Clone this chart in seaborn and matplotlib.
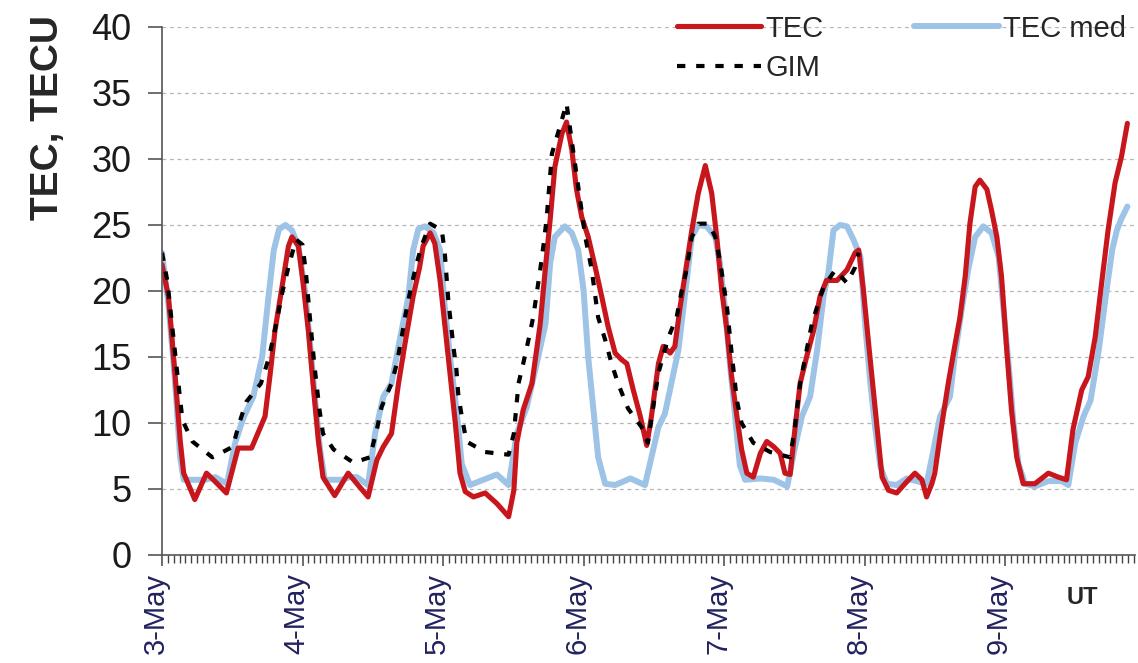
import matplotlib
matplotlib.use("Agg")
import matplotlib.pyplot as plt
import matplotlib.transforms as mtransforms
import seaborn as sns

tec_hours = [0, 1.1, 2.2, 3.1, 3.7, 5.6, 7.6, 9.0, 11.0, 13.0, 15.3, 17.6, 18.5, 19.3, 20.5,
             21.6, 22.2, 23.3, 24.1, 25.0, 25.8, 26.7, 27.5, 29.5, 31.8, 33.3, 35.2, 36.7,
             37.8, 39.2, 40.4, 41.5, 42.9, 44.0, 44.6, 45.8, 46.6, 47.5, 48.3, 49.2, 50.1,
             50.9, 51.8, 53.2, 55.2, 57.2, 59.2, 60.1, 60.6, 61.7, 63.2, 64.6, 65.5, 66.3,
             67.1, 68.3, 69.1, 70.0, 70.8, 71.7, 72.8, 74.0, 75.1, 76.2, 77.4, 78.5, 79.4,
             80.5, 81.7, 82.8, 83.6, 84.8, 85.6, 86.8, 87.6, 88.5, 89.3, 90.5, 91.6, 92.8,
             93.9, 94.8, 95.6, 96.5, 97.3, 98.2, 99.0, 99.9, 101.0, 102.2, 103.3, 104.5,
             105.6, 106.4, 107.3, 108.1, 109.0, 110.1, 111.3, 112.4, 113.5, 115.3, 117.0,
             118.4, 119.0, 119.8, 120.7, 121.5, 122.4, 123.0, 124.1, 125.5, 126.9, 128.6,
             129.8, 130.6, 131.5, 132.0, 133.0, 134.3, 135.4, 136.3, 137.2, 138.0, 138.9,
             139.7, 140.9, 141.7, 142.6, 143.4, 144.3, 145.1, 146.0, 147.1, 149.1, 151.4,
             153.1, 154.5, 155.6, 157.1, 158.2, 159.4, 160.5, 161.6, 162.8, 163.9, 164.9]
tec_vals = [22.0, 19.6, 13.8, 8.7, 6.2, 4.2, 6.2, 5.6, 4.7, 8.1, 8.1, 10.5, 13.8, 17.0, 20.3,
            23.4, 24.1, 23.4, 20.6, 17.0, 13.0, 8.7, 5.9, 4.5, 6.2, 5.4, 4.4, 7.2,
            8.2, 9.2, 13.0, 16.0, 19.6, 21.8, 23.4, 24.4, 23.6, 20.8, 17.5, 13.8, 10.0,
            6.2, 4.8, 4.4, 4.7, 3.9, 2.9, 4.9, 8.5, 11.0, 13.0, 17.5, 21.8, 25.4,
            29.4, 31.9, 32.8, 30.7, 27.7, 25.6, 24.1, 21.8, 19.6, 17.3, 15.3, 14.8, 14.5,
            12.5, 10.5, 8.3, 10.5, 14.5, 15.8, 15.3, 15.8, 18.8, 21.1, 24.6, 27.4, 29.5,
            27.4, 23.9, 20.1, 17.0, 13.5, 10.5, 8.0, 6.2, 5.9, 7.7, 8.6, 8.2,
            7.7, 6.2, 6.1, 9.5, 13.0, 15.0, 17.0, 19.6, 20.8, 20.8, 21.6,
            22.9, 23.1, 20.1, 16.0, 12.5, 8.5, 5.9, 4.9, 4.7, 5.4, 6.2,
            5.7, 4.4, 5.4, 6.2, 9.3, 13.0, 15.8, 18.0, 21.1, 25.1, 27.9,
            28.4, 27.7, 26.1, 24.1, 21.1, 15.5, 11.0, 7.4, 5.4, 5.4, 6.2,
            5.9, 5.7, 9.5, 12.5, 13.5, 16.5, 20.6, 24.6, 28.2, 30.2, 32.7]

med_hours = [0, 1.1, 2.2, 3.1, 3.7, 7.4, 9.1, 11.1, 12.5, 13.9, 15.6, 17.1, 18.2, 19.1, 20.0,
             21.1, 22.2, 23.3, 24.4, 25.3, 26.1, 27.0, 27.8, 30.7, 32.1, 33.3, 35.2, 36.4,
             37.8, 39.2, 40.7, 42.1, 42.9, 43.8, 44.9, 46.4, 47.5, 48.3, 49.2, 50.3, 51.2,
             52.6, 54.9, 57.2, 59.2, 60.6, 62.3, 64.0, 65.5, 66.3, 67.1, 68.8, 70.0, 71.1,
             72.0, 72.8, 73.7, 74.5, 75.7, 77.4, 80.0, 82.5, 83.6, 84.8, 85.9, 87.0, 88.2,
             89.3, 90.5, 91.6, 93.0, 94.5, 95.3, 96.2, 97.0, 97.9, 98.7, 99.6, 102.2, 104.5,
             106.8, 107.9, 109.3, 110.7, 111.9, 113.0, 113.8, 114.7, 115.8, 117.0, 118.1,
             119.3, 120.1, 121.0, 121.8, 122.7, 123.8, 125.5, 127.2, 128.9, 130.6, 131.8,
             132.9, 134.6, 135.4, 136.6, 137.7, 138.9, 140.3, 141.7, 142.9, 143.7, 144.6,
             145.4, 146.3, 147.4, 149.1, 151.4, 153.7, 154.8, 156.0, 157.4, 158.6, 160.0,
             161.2, 162.3, 163.1, 163.9, 164.9]
med_vals = [22.9, 19.0, 13.3, 7.4, 5.7, 5.7, 5.9, 5.4, 8.5, 10.4, 12.0, 15.0, 19.6, 23.1, 24.7,
            25.0, 24.6, 23.4, 20.1, 16.0, 12.0, 8.0, 5.7, 5.7, 5.9, 5.9, 5.3, 9.2,
            12.0, 13.0, 16.5, 19.6, 23.1, 24.7, 24.9, 24.4, 23.1, 18.8, 15.0, 11.0, 6.9,
            5.3, 5.7, 6.1, 5.3, 9.2, 11.2, 14.5, 17.5, 22.1, 24.1, 24.9, 24.4, 23.1,
            20.1, 15.0, 11.0, 7.4, 5.4, 5.3, 5.8, 5.3, 7.4, 9.7, 10.7, 13.0, 15.5,
            19.6, 24.1, 25.0, 24.9, 24.1, 22.1, 18.6, 14.5, 10.5, 6.8, 5.7, 5.8, 5.7,
            5.2, 7.7, 10.5, 12.0, 15.5, 19.6, 21.3, 24.6, 25.0, 24.9, 23.9,
            22.6, 17.5, 13.0, 9.7, 6.7, 5.4, 5.3, 5.8, 5.6, 5.4, 8.0,
            10.5, 12.0, 15.0, 18.6, 21.6, 24.1, 24.9, 24.4, 22.6, 18.8, 14.5,
            10.2, 6.9, 5.4, 5.2, 5.6, 5.6, 5.3, 8.5, 10.5, 11.7, 15.5,
            19.6, 23.1, 24.6, 25.5, 26.4]

gim_hours = [0, 0.9, 1.7, 2.6, 3.5, 5.2, 8.6, 12.1, 13.2, 14.4, 16.9, 18.3, 19.5, 20.6, 21.7,
             22.9, 24.0, 24.6, 25.2, 26.0, 26.9, 27.5, 29.3, 32.7, 35.5, 36.7, 37.5, 39.2,
             40.1, 40.9, 41.5, 42.4, 43.5, 44.4, 45.8, 47.8, 48.3, 48.9, 49.8, 50.3, 50.6,
             51.2, 52.0, 55.2, 59.2, 60.1, 60.9, 61.7, 62.6, 63.4, 64.0, 64.6, 65.2, 65.7,
             66.6, 68.0, 69.1, 70.3, 71.1, 72.3, 73.4, 74.5, 75.7, 76.8, 77.9, 79.6, 81.9,
             83.0, 83.9, 84.8, 86.5, 87.9, 88.8, 89.6, 90.5, 91.6, 93.4, 94.5, 95.3, 96.5,
             97.3, 98.2, 99.0, 101.0, 103.9, 107.3, 108.1, 109.0, 110.1, 111.0, 111.9,
             113.0, 115.0, 117.0, 118.4, 119.0]
gim_vals = [22.9, 20.8, 17.5, 13.8, 10.2, 8.6, 7.4, 8.2, 10.0, 11.6, 13.0, 15.0, 17.5, 20.0, 22.0,
            23.9, 23.5, 21.3, 18.3, 14.5, 11.0, 9.2, 8.0, 7.0, 7.4, 9.5, 11.2, 13.0,
            14.5, 16.4, 18.0, 20.0, 22.1, 23.5, 25.1, 24.6, 22.9, 19.3, 15.7, 14.0, 12.2,
            10.5, 8.6, 7.8, 7.6, 9.2, 13.0, 14.5, 16.3, 18.0, 19.8, 21.6, 23.6, 25.5,
            30.4, 32.5, 34.2, 30.4, 27.9, 24.1, 21.6, 18.0, 16.3, 14.5, 13.0, 11.1, 9.7,
            8.5, 11.2, 13.8, 16.5, 18.0, 20.1, 21.6, 24.1, 25.1, 25.1, 24.1, 22.3, 18.8,
            15.3, 11.7, 10.0, 8.5, 7.8, 7.4, 9.7, 13.0, 15.5, 17.5, 18.8,
            20.3, 21.6, 20.6, 21.8, 22.9]

day_labels = ["3-May", "4-May", "5-May", "6-May", "7-May", "8-May", "9-May"]

sns.set_style("white")
plt.rcParams["font.family"] = ["Liberation Sans", "DejaVu Sans"]

fig = plt.figure(figsize=(11.38, 6.63), dpi=100)
ax = fig.add_axes([162 / 1138, 1 - 555 / 663, (1135 - 162) / 1138, (555 - 27) / 663])

sns.lineplot(x=med_hours, y=med_vals, ax=ax, color="#9dc3e6", linewidth=4.3,
             label="TEC med", solid_joinstyle="round", solid_capstyle="round")
sns.lineplot(x=tec_hours, y=tec_vals, ax=ax, color="#c8161d", linewidth=3.7,
             label="TEC", solid_joinstyle="round", solid_capstyle="round")
sns.lineplot(x=gim_hours, y=gim_vals, ax=ax, color="black", linewidth=3.0,
             label="GIM", linestyle=(0, (2.0, 2.6)))

ax.set_xlim(0, 166.2)
ax.set_ylim(0, 40)
ax.set_yticks(range(0, 41, 5))
ax.set_xticks([24 * i for i in range(len(day_labels))])
ax.set_xticklabels(day_labels, rotation=90, fontsize=21, color="#22225e", va="top")
ax.set_xticks(range(0, 167), minor=True)
ax.tick_params(axis="y", left=True, labelsize=26, length=10, width=1.2, color="#555555",
               pad=12, labelcolor="#1a1a1a")
ax.tick_params(axis="x", which="major", bottom=True, length=8, width=1.1,
               color="#444444", pad=5)
ax.tick_params(axis="x", which="minor", bottom=True, length=6, width=1.0, color="#444444")
ax.set_xlabel("")
ax.set_ylabel("")

shift = mtransforms.ScaledTranslation(-6 / 100, 0, fig.dpi_scale_trans)
for lbl in ax.get_xticklabels():
    lbl.set_transform(lbl.get_transform() + shift)

for v in range(5, 41, 5):
    ax.axhline(v, color="#b5b5b5", linewidth=0.9, linestyle=(0, (3, 3)), zorder=0)

for side in ["top", "right"]:
    ax.spines[side].set_visible(False)
for side in ["left", "bottom"]:
    ax.spines[side].set_color("#555555")
    ax.spines[side].set_linewidth(1.2)

handles, labels = ax.get_legend_handles_labels()
order = [labels.index("TEC"), labels.index("GIM"), labels.index("TEC med")]
ax.legend([handles[i] for i in order], [labels[i] for i in order], ncol=2,
          frameon=False, fontsize=21, handlelength=2.9, handletextpad=0.15,
          columnspacing=3.1, labelspacing=0.4, borderpad=0.0,
          loc="upper left", bbox_to_anchor=(662 / 1138, 1 - 0 / 663),
          bbox_transform=fig.transFigure)

fig.text(48 / 1138, 1 - 117 / 663, "TEC, TECU", rotation=90, ha="center", va="center",
         fontsize=28, fontweight="bold")
fig.text(1082 / 1138, 1 - 598 / 663, "UT", ha="center", va="center",
         fontsize=17, fontweight="bold")

fig.savefig("out.png", dpi=100)
